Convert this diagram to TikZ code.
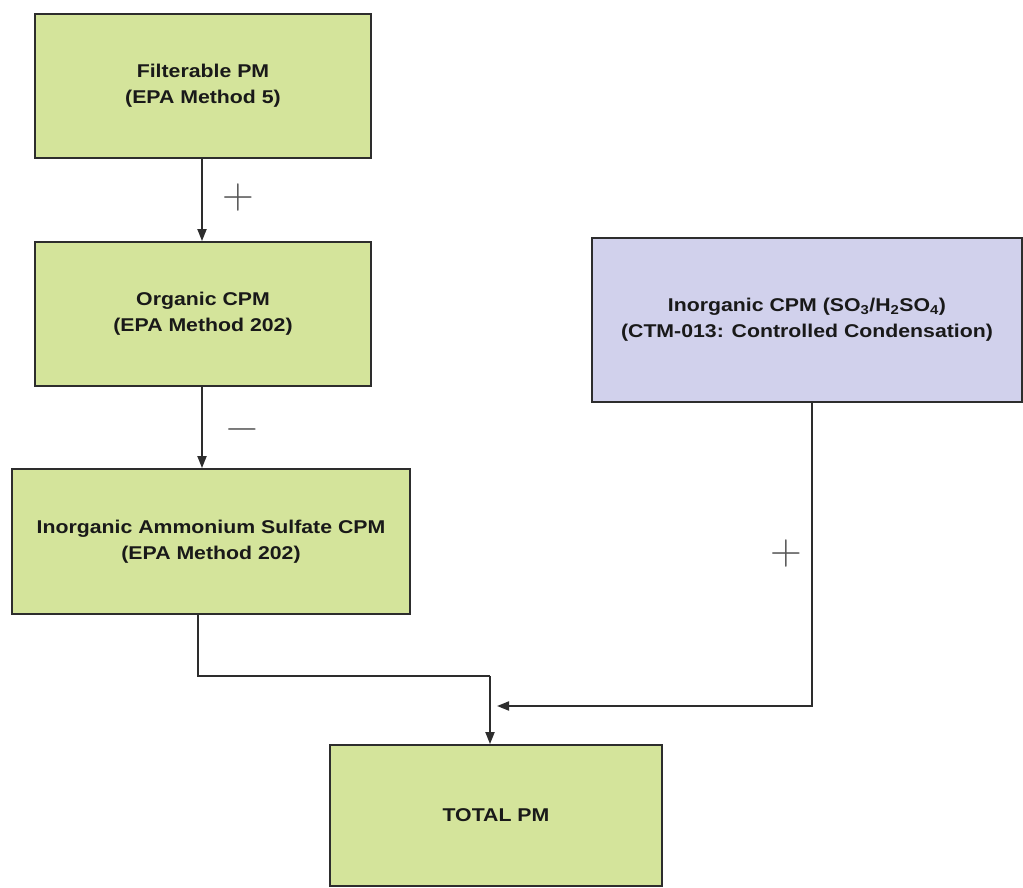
\documentclass[tikz,border=0pt]{standalone}
\usepackage{fontspec}
\setmainfont{Liberation Sans}
\newfontfamily\labfont[FakeStretch=1.15]{Liberation Sans}
\newfontfamily\signfont{Latin Modern Roman}
\usetikzlibrary{arrows.meta}
\definecolor{boxgreen}{RGB}{212,228,155}
\definecolor{boxpurple}{RGB}{209,209,236}
\definecolor{edge}{RGB}{45,45,45}
\definecolor{signgray}{RGB}{85,85,85}
\tikzset{
  box/.style={draw=edge, line width=1.8pt, fill=boxgreen, rectangle, align=center,
    inner sep=0pt, text=black!90,
    font=\labfont\bfseries\fontsize{18.5}{26}\selectfont},
  pbox/.style={box, fill=boxpurple},
  conn/.style={draw=edge, line width=1.8pt},
  arr/.style={conn, -{Triangle[length=12pt,width=9pt]}},
  sign/.style={text=signgray, font=\signfont\fontsize{44}{44}\selectfont, inner sep=0pt}
}
\begin{document}
\begin{tikzpicture}[x=1pt,y=-1pt]
\useasboundingbox (0,0) rectangle (1023,888);
\node[box, minimum width=336pt, minimum height=144pt] (fpm) at (203,86)
  {Filterable PM\\(EPA Method 5)};
\node[box, minimum width=336pt, minimum height=144pt] (ocpm) at (203,314)
  {Organic CPM\\(EPA Method 202)};
\node[box, minimum width=398pt, minimum height=145pt] (ias) at (211,541.5)
  {Inorganic Ammonium Sulfate CPM\\(EPA Method 202)};
\node[pbox, minimum width=430pt, minimum height=164pt] (ctm) at (807,320)
  {Inorganic CPM (SO\textsubscript{3}/H\textsubscript{2}SO\textsubscript{4})\\(CTM-013: Controlled Condensation)};
\node[box, minimum width=332pt, minimum height=141pt] (tot) at (496,815.5)
  {TOTAL PM};
\coordinate (j1) at (490,676);
\coordinate (j2) at (497,706);
\draw[arr] (fpm.south -| 202,0) -- (ocpm.north -| 202,0);
\draw[arr] (ocpm.south -| 202,0) -- (ias.north -| 202,0);
\draw[conn] (ias.south -| 198,0) |- (j1);
\draw[arr] (j1) -- (j1 |- tot.north);
\draw[arr] (ctm.south -| 812,0) |- (j2);
\node[sign] (p1) at (238,198) {+};
\node[sign] (m1) at (242,435) {−};
\node[sign] (p2) at (786,554) {+};
\end{tikzpicture}
\end{document}
